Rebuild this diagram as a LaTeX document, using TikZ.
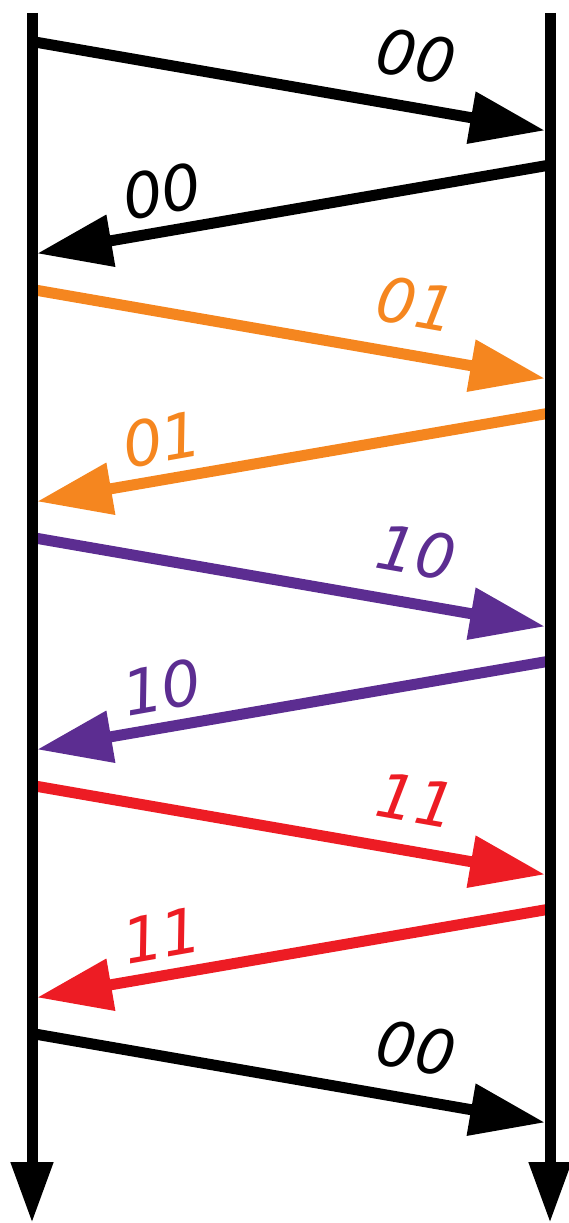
\documentclass[tikz,border=0pt]{standalone}
\usepackage{fontspec}
\setmainfont{DejaVu Sans}
\usepackage{tikz}
\usetikzlibrary{arrows.meta}
\definecolor{seqorange}{RGB}{245,134,31}
\definecolor{seqpurple}{RGB}{92,45,145}
\definecolor{seqred}{RGB}{237,28,36}

\begin{document}
\begin{tikzpicture}[
    x=1pt, y=-1pt,
    msg/.style={line width=11pt, -{Triangle[length=75pt, width=50pt]}},
    timeline/.style={line width=11pt, -{Triangle[length=61pt, width=40pt]}},
    seqlabel/.style={font=\fontsize{62}{62}\selectfont\itshape, inner sep=0pt},
]
    \useasboundingbox (0,0) rectangle (569,1223);

    % ends of the two time lines
    \coordinate (senderTop) at (32,13);
    \coordinate (senderBot) at (32,1223);
    \coordinate (recvTop) at (550,13);
    \coordinate (recvBot) at (550,1223);

    % frames and acknowledgements
    \coordinate (f0s) at (32,41.5);    \coordinate (f0e) at (545,130.5);
    \coordinate (a0s) at (550,165);    \coordinate (a0e) at (37,253.5);
    \coordinate (f1s) at (32,289.5);   \coordinate (f1e) at (545,378.5);
    \coordinate (a1s) at (550,413);    \coordinate (a1e) at (37,501.5);
    \coordinate (f2s) at (32,537.5);   \coordinate (f2e) at (545,626.5);
    \coordinate (a2s) at (550,661);    \coordinate (a2e) at (37,749.5);
    \coordinate (f3s) at (32,785.5);   \coordinate (f3e) at (545,874.5);
    \coordinate (a3s) at (550,909);    \coordinate (a3e) at (37,997.5);
    \coordinate (f4s) at (32,1033.5);  \coordinate (f4e) at (545,1122.5);

    \draw[msg, black] (f0s) -- (f0e);
    \draw[msg, black] (a0s) -- (a0e);
    \draw[msg, seqorange] (f1s) -- (f1e);
    \draw[msg, seqorange] (a1s) -- (a1e);
    \draw[msg, seqpurple] (f2s) -- (f2e);
    \draw[msg, seqpurple] (a2s) -- (a2e);
    \draw[msg, seqred] (f3s) -- (f3e);
    \draw[msg, seqred] (a3s) -- (a3e);
    \draw[msg, black] (f4s) -- (f4e);

    \draw[timeline] (senderTop) -- (senderBot);
    \draw[timeline] (recvTop) -- (recvBot);

    % sequence numbers
    \node[seqlabel, rotate=-10] (lf0) at (416,56) {00};
    \node[seqlabel, rotate=10] (la0) at (162,191) {00};
    \node[seqlabel, rotate=-10, seqorange] (lf1) at (416,304) {01};
    \node[seqlabel, rotate=10, seqorange] (la1) at (162,439) {01};
    \node[seqlabel, rotate=-10, seqpurple] (lf2) at (416,552) {10};
    \node[seqlabel, rotate=10, seqpurple] (la2) at (162,687) {10};
    \node[seqlabel, rotate=-10, seqred] (lf3) at (416,800) {11};
    \node[seqlabel, rotate=10, seqred] (la3) at (162,935) {11};
    \node[seqlabel, rotate=-10] (lf4) at (416,1048) {00};
\end{tikzpicture}
\end{document}
